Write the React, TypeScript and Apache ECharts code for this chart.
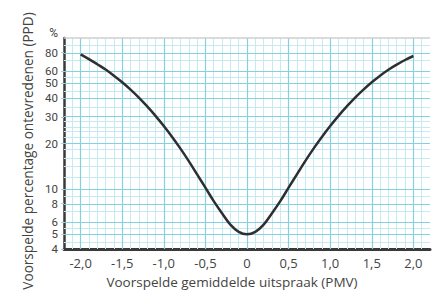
import React, { useEffect, useRef } from "react";
import * as echarts from "echarts";

// Predicted mean vote (x) and predicted percentage dissatisfied (y)
const PMV = [
  -2.0, -1.9, -1.8, -1.7, -1.6, -1.5, -1.4, -1.3, -1.2, -1.1, -1.0, -0.9, -0.8, -0.7, -0.6, -0.5, -0.4, -0.3, -0.2, -0.1,
  0.0, 0.1, 0.2, 0.3, 0.4, 0.5, 0.6, 0.7, 0.8, 0.9, 1.0, 1.1, 1.2, 1.3, 1.4, 1.5, 1.6, 1.7, 1.8, 1.9, 2.0,
];
const PPD = [
  78, 72.5, 67, 61.8, 56.3, 50.9, 45.5, 40.3, 35.2, 30.5, 26.1, 22.1, 18.5, 15.3, 12.5, 10.2, 8.3, 6.9, 5.8, 5.2,
  5.0, 5.2, 5.8, 6.9, 8.3, 10.2, 12.5, 15.3, 18.5, 22.1, 26.1, 30.5, 35.2, 40.3, 45.5, 50.9, 56.3, 61.6, 66.6, 71.5, 76,
];

// Tick labels
const X_LABELS = [-2, -1.5, -1, -0.5, 0, 0.5, 1, 1.5, 2];
const Y_LABELS = [4, 5, 6, 8, 10, 20, 30, 40, 50, 60, 80, 100];

// Graph-paper grid
const X_MAJOR = [-2, -1.5, -1, -0.5, 0, 0.5, 1, 1.5, 2];
const X_MINOR = [
  -2.1, -1.9, -1.8, -1.7, -1.6, -1.4, -1.3, -1.2, -1.1, -0.9, -0.8, -0.7, -0.6, -0.4, -0.3, -0.2, -0.1,
  0.1, 0.2, 0.3, 0.4, 0.6, 0.7, 0.8, 0.9, 1.1, 1.2, 1.3, 1.4, 1.6, 1.7, 1.8, 1.9, 2.1,
];
const Y_MAJOR = [5, 6, 8, 10, 20, 30, 40, 50, 60, 80];
const Y_MINOR = [4.5, 5.5, 7, 9, 12, 14, 16, 18, 22, 24, 26, 28, 35, 45, 55, 70, 90];

const X_NAME = "Voorspelde gemiddelde uitspraak (PMV)";
const Y_NAME = "Voorspelde percentage ontevredenen (PPD)";

const FONT = "'Open Sans', 'Noto Sans', sans-serif";
const NUM_FONT = "Roboto, 'Open Sans', sans-serif";

export default function App() {
  const ref = useRef<HTMLDivElement>(null);

  useEffect(() => {
    if (!ref.current) return;
    const chart = echarts.init(ref.current, undefined, { renderer: "svg" });
    const lg = (v: number) => Math.log10(v);

    const minorColor = "#c6eaf2";
    const majorColor = "#86d0e1";

    const gridLines: any[] = [
      ...X_MINOR.map((v) => ({ xAxis: v, lineStyle: { color: minorColor, width: 1, type: "solid" } })),
      ...Y_MINOR.map((v) => ({ yAxis: lg(v), lineStyle: { color: minorColor, width: 1, type: "solid" } })),
      ...X_MAJOR.map((v) => ({ xAxis: v, lineStyle: { color: majorColor, width: 1.2, type: "solid" } })),
      ...Y_MAJOR.map((v) => ({ yAxis: lg(v), lineStyle: { color: majorColor, width: 1.2, type: "solid" } })),
      { yAxis: lg(100), lineStyle: { color: "#cfcfcf", width: 1.5, type: "solid" } },
    ];

    const data = PMV.map((x, i) => [x, lg(PPD[i])]);

    chart.setOption({
      animation: false,
      grid: { left: 64, right: 5, top: 38, bottom: 50, containLabel: false },
      graphic: [
        {
          type: "text",
          x: 27,
          y: 151,
          rotation: Math.PI / 2,
          silent: true,
          style: {
            text: Y_NAME,
            fontFamily: FONT,
            fontSize: 13.6,
            fill: "#444",
            align: "center",
            verticalAlign: "middle",
          },
        },
      ],
      xAxis: {
        type: "value",
        min: -2.2,
        max: 2.2,
        name: X_NAME,
        nameLocation: "middle",
        nameGap: 26,
        nameTextStyle: { fontFamily: FONT, fontSize: 13.5, color: "#444", padding: [0, 30, 0, 0] },
        axisLine: { show: true, onZero: false, lineStyle: { color: "#3a3a3a", width: 3 } },
        axisTick: { show: false },
        splitLine: { show: false },
        axisLabel: {
          customValues: X_LABELS,
          margin: 7,
          fontFamily: FONT,
          fontSize: 13,
          color: "#444",
          formatter: (v: number) => (v === 0 ? "0" : v.toFixed(1).replace(".", ",")),
        },
      },
      yAxis: {
        type: "value",
        min: lg(4),
        max: lg(100),
        axisLine: { show: true, onZero: false, lineStyle: { color: "#3a3a3a", width: 2.5 } },
        axisTick: { show: true, customValues: Y_LABELS.slice(0, -1).map(lg), length: 3, lineStyle: { color: "#9fd6e3", width: 1 } },
        splitLine: { show: false },
        axisLabel: {
          customValues: Y_LABELS.map(lg),
          showMaxLabel: true,
          showMinLabel: true,
          margin: 6,
          fontFamily: NUM_FONT,
          fontSize: 11.5,
          color: "#444",
          formatter: (v: number) => {
            const n = Math.round(Math.pow(10, v));
            return n === 100 ? "{p|%}" : String(n);
          },
          rich: { p: { fontFamily: NUM_FONT, fontSize: 12, color: "#444", padding: [0, 0, 10, 0] } },
        },
      },
      series: [
        {
          type: "line",
          data,
          z: 1,
          silent: true,
          showSymbol: false,
          lineStyle: { width: 0, opacity: 0 },
          markLine: {
            silent: true,
            symbol: ["none", "none"],
            label: { show: false },
            animation: false,
            data: gridLines,
          },
        },
        {
          type: "line",
          data,
          z: 5,
          smooth: 0.4,
          showSymbol: false,
          silent: true,
          lineStyle: { color: "#2f2f2f", width: 2.5 },
        },
      ],
    });

    return () => chart.dispose();
  }, []);

  return (
    <div
      ref={ref}
      style={{ position: "fixed", left: 0, top: 0, width: 435, height: 299, background: "#fff" }}
    />
  );
}
